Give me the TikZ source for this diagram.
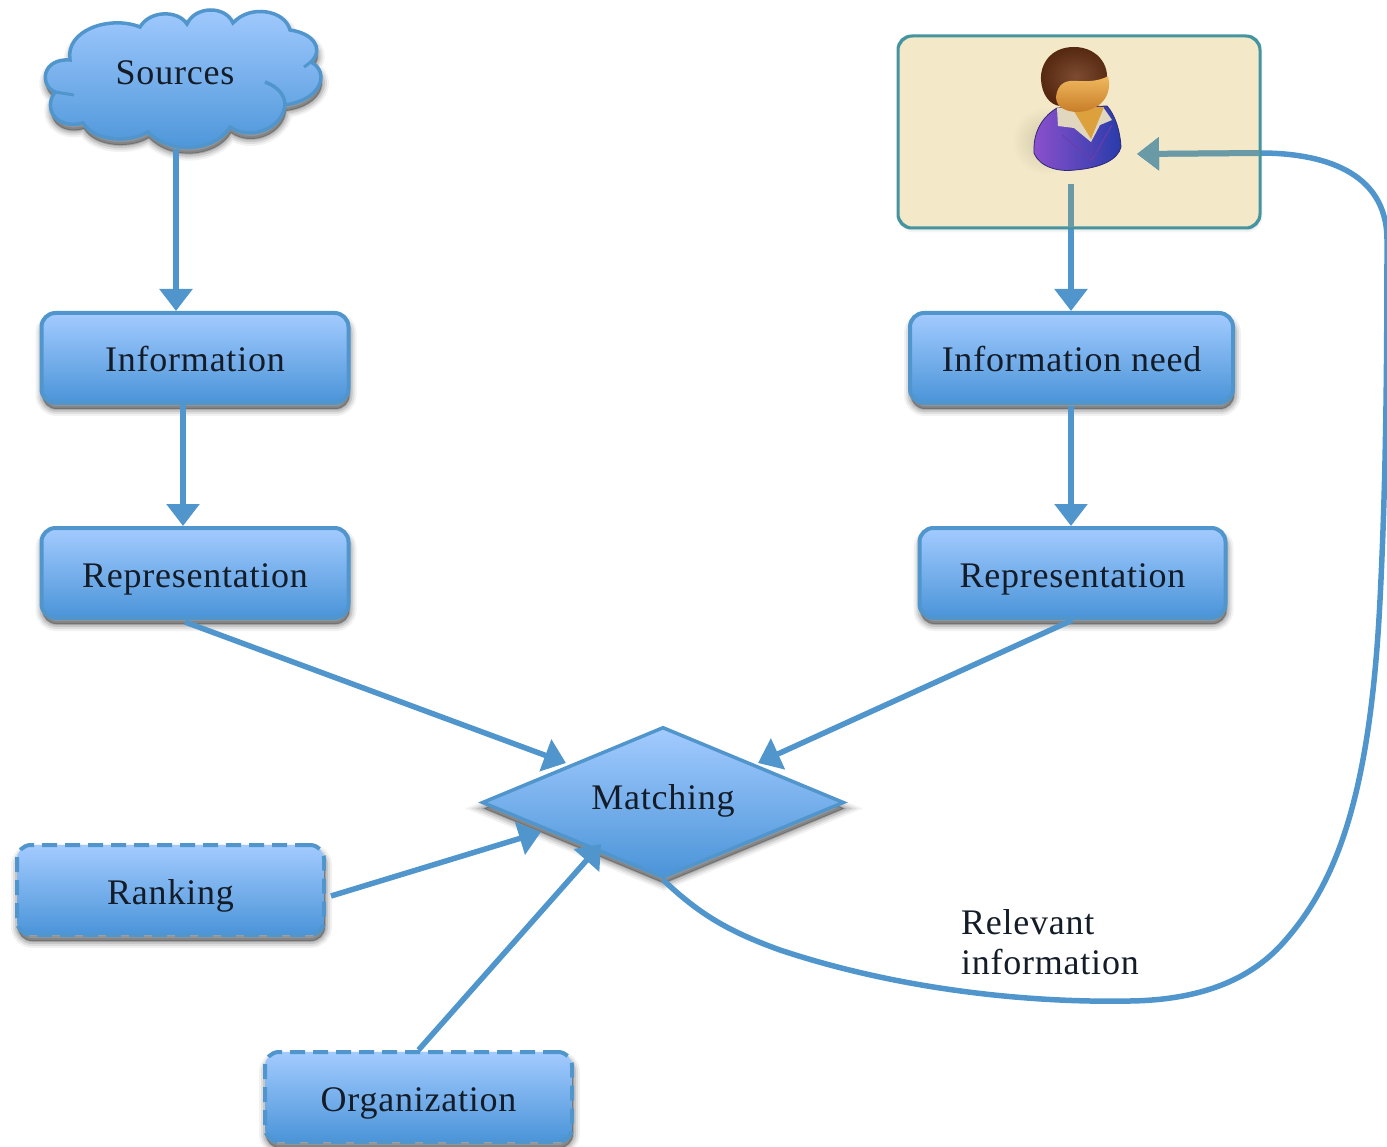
\documentclass[tikz,border=0pt]{standalone}
\usepackage{fontspec}
\setmainfont[LetterSpace=2.1]{Liberation Serif}
\usetikzlibrary{arrows.meta,shapes.geometric,shadows}
\definecolor{lineblue}{HTML}{5096CC}
\definecolor{topblue}{HTML}{A3CBFF}
\definecolor{botblue}{HTML}{4A94D8}
\definecolor{boxfill}{HTML}{F3E9C8}
\definecolor{boxline}{HTML}{44959F}
\definecolor{inboxline}{HTML}{6A9AA6}
\definecolor{inktext}{HTML}{141C28}
\definecolor{coatleft}{HTML}{8C50CD}
\definecolor{coatright}{HTML}{283CAA}
\definecolor{coatline}{HTML}{322878}
\definecolor{lapel}{HTML}{6E3CAA}
\definecolor{collar}{HTML}{E1D7BE}
\definecolor{neck}{HTML}{DCA03C}
\definecolor{hairin}{HTML}{7D4B32}
\definecolor{hairout}{HTML}{55280F}
\definecolor{facetop}{HTML}{F0B95F}
\definecolor{facebot}{HTML}{C87D28}
\definecolor{usershade}{HTML}{CFC7A8}
\tikzset{
  softshadow/.style={
    general shadow={shadow xshift=1pt,shadow yshift=-6pt,draw=black,solid,line width=14pt,draw opacity=.05,fill=black,fill opacity=.05},
    general shadow={shadow xshift=1pt,shadow yshift=-6pt,draw=black,solid,line width=10pt,draw opacity=.08,fill=black,fill opacity=.08},
    general shadow={shadow xshift=1pt,shadow yshift=-6pt,draw=black,solid,line width=6pt,draw opacity=.11,fill=black,fill opacity=.11},
    general shadow={shadow xshift=1pt,shadow yshift=-6pt,draw=black,solid,line width=2pt,draw opacity=.14,fill=black,fill opacity=.14}},
  bluefill/.style={draw=lineblue,line width=4pt,top color=topblue,bottom color=botblue,middle color=topblue!50!botblue},
  label text/.style={font=\fontsize{36}{40}\selectfont,text=inktext,text height=28pt,text depth=0pt},
  procbox/.style={softshadow,bluefill,rounded corners=14pt,minimum width=307pt,minimum height=90pt,label text,inner sep=0pt},
  dashbox/.style={procbox,dash pattern=on 15pt off 8pt},
  arrowline/.style={draw=lineblue,line width=6pt,-{Triangle[length=22pt,width=32pt]}},
  thinarrow/.style={draw=lineblue,line width=5.5pt,-{Triangle[length=22pt,width=33pt]}}
}
\begin{document}
\begin{tikzpicture}[x=1pt,y=-1pt]
\useasboundingbox (0,0) rectangle (1387,1147);
% cloud
\path[softshadow,bluefill,line width=3.5pt]
  (70,60) .. controls (65,30) and (110,15) .. (140,27)
  .. controls (150,10) and (178,10) .. (187,24)
  .. controls (195,6) and (225,5) .. (233,23)
  .. controls (250,4) and (285,10) .. (290,30)
  .. controls (312,33) and (325,48) .. (311,62)
  .. controls (330,72) and (322,100) .. (285,105)
  .. controls (283,127) and (252,142) .. (230,127)
  .. controls (215,152) and (170,155) .. (148,132)
  .. controls (130,143) and (95,142) .. (83,123)
  .. controls (58,130) and (42,110) .. (55,92)
  .. controls (39,85) and (42,58) .. (70,60) -- cycle;
\draw[lineblue,line width=3.5pt] (285,105) .. controls (285,95) and (278,87) .. (265,82);
\draw[lineblue,line width=3pt] (55,92) -- (74,95);
\draw[lineblue,line width=3pt] (311,62) -- (304,67);
\node[label text] (sources) at (175,71) {Sources};
\coordinate (cloudbot) at (176,149);
% boxes
\node[procbox] (info) at (195,358) {Information};
\node[procbox] (repl) at (195,573) {Representation};
\node[procbox,minimum width=323pt] (need) at (1071.5,358) {Information need};
\node[procbox,minimum width=306pt] (repr) at (1072.5,573) {Representation};
\node[dashbox] (ranking) at (170.5,890) {Ranking};
\node[dashbox] (org) at (418.5,1097) {Organization};
\node[softshadow,bluefill,line width=3.5pt,diamond,aspect=2.4,minimum width=362pt,minimum height=151pt,inner sep=0pt,label text] (match) at (663,802.5) {\raisebox{7pt}{Matching}};
% user box
\node[draw=boxline,line width=2pt,fill=boxfill,rounded corners=14pt,minimum width=361pt,minimum height=191pt,inner sep=0pt,
  general shadow={shadow xshift=1pt,shadow yshift=-3pt,fill=black,fill opacity=.06,draw=black,draw opacity=.04,line width=4pt}] (user) at (1079,132) {};
\coordinate (usertip) at (1137,154);
\coordinate (userbot) at (1071,184);
% connectors
\draw[arrowline] (cloudbot) -- (cloudbot |- info.north);
\draw[arrowline] (183,405) coordinate (infobot) -- (infobot |- repl.north);
\draw[arrowline] (1071,406) coordinate (needbot) -- (needbot |- repr.north);
\draw[arrowline] (userbot) -- (userbot |- need.north);
\coordinate (repltail) at (185,622);
\coordinate (rankingtail) at (331,896);
\coordinate (matchnw) at (566,763);
\coordinate (matchne) at (758,763);
\coordinate (matchw) at (541,832);
\coordinate (matchsw) at (601,844);
\draw[thinarrow] (repltail) -- (matchnw);
\draw[thinarrow] (repr.south) -- (matchne);
\draw[thinarrow] (rankingtail) -- (matchw);
\draw[thinarrow] (org.north) -- (matchsw);
\def\feedback{(match.south) .. controls (700,915) and (730,932) .. (780,950)
  .. controls (900,990) and (1030,1003) .. (1130,1001)
  .. controls (1200,1000) and (1250,980) .. (1283,943)
  .. controls (1335,885) and (1370,800) .. (1380,600)
  .. controls (1385,500) and (1387,400) .. (1387,240)
  .. controls (1387,170) and (1320,153) .. (1260,153) -- (usertip)}
\draw[draw=lineblue,line width=5.5pt,-{Triangle[length=22pt,width=32pt]}] \feedback;
% the part of the lines seen through the box
\begin{scope}
\clip[rounded corners=14pt] (user.north west) rectangle (user.south east);
\draw[draw=inboxline,line width=6pt,-{Triangle[length=22pt,width=32pt]}] (1260,153) -- (usertip);
\draw[draw=inboxline,line width=6pt] (userbot) -- (userbot |- need.north);
\end{scope}
\draw[boxline,line width=2pt,rounded corners=14pt] (user.north west) rectangle (user.south east);
% person
\path[inner color=usershade,outer color=boxfill] (1045,141) ellipse (33pt and 34pt);
\path[left color=coatleft,right color=coatright,draw=coatline,line width=.8pt]
  (1057,108) .. controls (1040,118) and (1033,135) .. (1034,153)
  .. controls (1040,168) and (1060,172) .. (1075,170)
  .. controls (1100,168) and (1118,160) .. (1121,147)
  .. controls (1120,130) and (1115,115) .. (1107,106) -- cycle;
\fill[collar] (1057,108) -- (1058,126) -- (1074,128) -- (1091,142) -- (1100,125) -- (1112,120) -- (1103,107) -- cycle;
\fill[neck] (1072,108) -- (1104,107) -- (1091,139) -- cycle;
\draw[lapel,line width=.9pt] (1062,135) -- (1092,160) (1092,142) -- (1092,160) -- (1112,125);
\path[inner color=hairin,outer color=hairout]
  (1074,47) .. controls (1050,47) and (1040,65) .. (1041,80)
  .. controls (1042,95) and (1050,105) .. (1060,106) -- (1105,85)
  .. controls (1112,70) and (1100,47) .. (1074,47) -- cycle;
\path[top color=facetop,bottom color=facebot]
  (1057,92) .. controls (1060,82) and (1068,80) .. (1078,81)
  .. controls (1090,82) and (1102,80) .. (1108,76)
  .. controls (1112,90) and (1106,110) .. (1078,112)
  .. controls (1062,112) and (1053,104) .. (1057,92) -- cycle;
% label
\node[font=\fontsize{36}{40}\selectfont,text=inktext,align=left,anchor=west,inner sep=0pt] (relevant) at (961,942) {Relevant\\[0pt]information};
\end{tikzpicture}
\end{document}
